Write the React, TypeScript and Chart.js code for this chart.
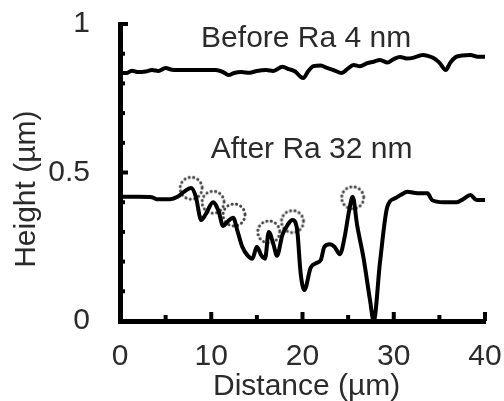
import React, { useEffect, useRef } from 'react';
import { Chart, registerables } from 'chart.js';

Chart.register(...registerables);

// Surface profile before polishing (Ra 4 nm)
const beforeX = [0, 0.7, 1.3, 2.0, 2.8, 3.5, 4.2, 5.0, 5.7, 7.0, 10.5, 11.3, 11.9, 12.5, 13.3, 14.2, 15.0, 16.0, 16.8, 17.8, 18.5, 19.2, 19.8, 20.1, 20.6, 21.2, 22.0, 22.7, 23.4, 24.3, 24.9, 25.6, 26.3, 27.1, 27.8, 28.5, 29.3, 30.0, 30.7, 31.4, 32.1, 32.8, 33.2, 33.8, 34.3, 35.0, 35.7, 36.2, 36.8, 37.5, 38.4, 39.2, 40];
const beforeY = [0.835, 0.835, 0.843, 0.838, 0.840, 0.845, 0.842, 0.852, 0.846, 0.845, 0.845, 0.838, 0.828, 0.835, 0.838, 0.836, 0.842, 0.845, 0.842, 0.856, 0.848, 0.840, 0.822, 0.818, 0.840, 0.858, 0.860, 0.852, 0.845, 0.835, 0.848, 0.862, 0.858, 0.868, 0.873, 0.879, 0.870, 0.882, 0.889, 0.884, 0.886, 0.893, 0.896, 0.892, 0.886, 0.870, 0.845, 0.870, 0.889, 0.894, 0.896, 0.890, 0.890];

// Surface profile after (Ra 32 nm)
const afterX = [0, 2.0, 3.5, 4.0, 5.5, 6.3, 7.0, 7.8, 8.3, 8.9, 9.4, 10.2, 10.8, 11.3, 11.8, 12.4, 12.9, 13.4, 14.0, 14.5, 15.0, 15.5, 15.9, 16.3, 16.8, 17.2, 17.8, 18.4, 18.9, 19.4, 19.8, 20.2, 20.9, 21.5, 22.0, 22.4, 23.0, 23.5, 24.1, 24.6, 25.1, 25.5, 26.0, 26.7, 27.4, 27.8, 28.5, 29.3, 30.2, 30.8, 31.5, 32.6, 33.7, 34.2, 35.4, 36.9, 37.6, 38.4, 39.1, 40];
const afterY = [0.418, 0.418, 0.417, 0.410, 0.410, 0.418, 0.435, 0.448, 0.420, 0.340, 0.360, 0.400, 0.370, 0.320, 0.335, 0.348, 0.300, 0.250, 0.220, 0.210, 0.250, 0.220, 0.210, 0.300, 0.260, 0.220, 0.290, 0.325, 0.340, 0.310, 0.160, 0.104, 0.180, 0.195, 0.205, 0.250, 0.258, 0.250, 0.225, 0.280, 0.370, 0.418, 0.320, 0.210, 0.070, 0.000, 0.200, 0.385, 0.414, 0.425, 0.435, 0.430, 0.430, 0.407, 0.400, 0.400, 0.410, 0.424, 0.407, 0.407];

// Peaks highlighted with dotted circles
const peakX = [7.8, 10.2, 12.5, 16.3, 18.9, 25.5];
const peakY = [0.447, 0.400, 0.357, 0.300, 0.335, 0.415];

const xTickValues = [0, 10, 20, 30, 40];
const yTickValues = [0, 0.5, 1];

const FONT = "'Liberation Sans', Arial, sans-serif";
const TEXT_COLOR = '#2b2b2b';

function makeDottedCircle(): HTMLCanvasElement {
  const c = document.createElement('canvas');
  c.width = 28;
  c.height = 28;
  const g = c.getContext('2d')!;
  g.strokeStyle = '#444';
  g.lineWidth = 3;
  g.lineCap = 'round';
  g.setLineDash([0.1, 4.4]);
  g.beginPath();
  g.arc(14, 14, 11, 0, Math.PI * 2);
  g.stroke();
  return c;
}

const inwardTicks = {
  id: 'inwardTicks',
  afterDraw(chart: any) {
    const { ctx, chartArea } = chart;
    const xs = chart.scales.x;
    const ys = chart.scales.y;
    ctx.save();
    ctx.strokeStyle = '#000';
    ctx.lineWidth = 4;
    ctx.lineCap = 'butt';
    xs.ticks.forEach((t: any) => {
      const px = xs.getPixelForValue(t.value);
      const major = xTickValues.some((v) => Math.abs(v - t.value) < 1e-6);
      ctx.beginPath();
      ctx.moveTo(px, chartArea.bottom);
      ctx.lineTo(px, chartArea.bottom - (major ? 9 : 6));
      ctx.stroke();
    });
    ys.ticks.forEach((t: any) => {
      const py = ys.getPixelForValue(t.value);
      const major = yTickValues.some((v) => Math.abs(v - t.value) < 1e-6);
      ctx.beginPath();
      ctx.moveTo(chartArea.left, py);
      ctx.lineTo(chartArea.left + (major ? 8 : 5), py);
      ctx.stroke();
    });
    ctx.restore();
  },
};

const annotations = {
  id: 'annotations',
  afterDatasetsDraw(chart: any) {
    const { ctx } = chart;
    const xs = chart.scales.x;
    const ys = chart.scales.y;
    ctx.save();
    ctx.fillStyle = TEXT_COLOR;
    ctx.font = `30px ${FONT}`;
    ctx.textAlign = 'center';
    ctx.textBaseline = 'alphabetic';
    ctx.fillText('Before Ra 4 nm', xs.getPixelForValue(20.4), ys.getPixelForValue(0.922));
    ctx.fillText('After Ra 32 nm', xs.getPixelForValue(21.0), ys.getPixelForValue(0.549));
    ctx.restore();
  },
};

export default function App() {
  const ref = useRef<HTMLCanvasElement>(null);

  useEffect(() => {
    if (!ref.current) return;
    const circle = makeDottedCircle();
    const chart = new Chart(ref.current, {
      type: 'line',
      data: {
        datasets: [
          {
            label: 'Before',
            data: beforeX.map((x, i) => ({ x, y: beforeY[i] })),
            borderColor: '#000',
            borderWidth: 4,
            pointRadius: 0,
            cubicInterpolationMode: 'monotone',
            fill: false,
            order: 1,
          },
          {
            label: 'After',
            data: afterX.map((x, i) => ({ x, y: afterY[i] })),
            borderColor: '#000',
            borderWidth: 4,
            pointRadius: 0,
            cubicInterpolationMode: 'monotone',
            fill: false,
            order: 1,
          },
          {
            label: 'Peaks',
            data: peakX.map((x, i) => ({ x, y: peakY[i] })),
            showLine: false,
            pointStyle: circle as any,
            pointRadius: 11,
            order: 2,
          },
        ],
      },
      options: {
        animation: false,
        responsive: false,
        events: [],
        layout: { padding: { left: 0, right: 19, top: 24, bottom: 0 } },
        plugins: {
          legend: { display: false },
          tooltip: { enabled: false },
        },
        scales: {
          x: {
            type: 'linear',
            min: 0,
            max: 40,
            grid: { display: true, drawOnChartArea: false, drawTicks: false },
            border: { display: true, color: '#000', width: 5 },
            ticks: {
              stepSize: 5,
              autoSkip: false,
              maxRotation: 0,
              padding: 18,
              color: TEXT_COLOR,
              font: { family: FONT, size: 30 },
              callback: (v: any) => (xTickValues.some((t) => Math.abs(t - v) < 1e-6) ? String(v) : ''),
            },
            title: {
              display: true,
              text: ' Distance (µm)',
              color: TEXT_COLOR,
              font: { family: FONT, size: 30 },
              padding: { top: 0, bottom: -4 },
            },
            afterFit: (s: any) => {
              s.height = 80;
              s.paddingLeft = 0;
              s.paddingRight = 0;
            },
          },
          y: {
            type: 'linear',
            min: 0,
            max: 1,
            grid: { display: true, drawOnChartArea: false, drawTicks: false },
            border: { display: true, color: '#000', width: 5 },
            ticks: {
              stepSize: 0.1,
              autoSkip: false,
              padding: 30,
              color: TEXT_COLOR,
              font: { family: FONT, size: 30 },
              callback: (v: any) => {
                const hit = yTickValues.find((t) => Math.abs(t - v) < 1e-6);
                return hit === undefined ? '' : String(hit);
              },
            },
            title: {
              display: true,
              text: 'Height (µm)    ',
              color: TEXT_COLOR,
              font: { family: FONT, size: 30 },
              padding: { top: 9, bottom: 0 },
            },
            afterFit: (s: any) => {
              s.width = 120;
              s.paddingTop = 0;
              s.paddingBottom = 0;
            },
          },
        },
      },
      plugins: [inwardTicks, annotations],
    });
    return () => chart.destroy();
  }, []);

  return (
    <div style={{ position: 'fixed', left: 0, top: 0, width: 504, height: 401, background: '#fff' }}>
      <canvas ref={ref} width={504} height={401} />
    </div>
  );
}
